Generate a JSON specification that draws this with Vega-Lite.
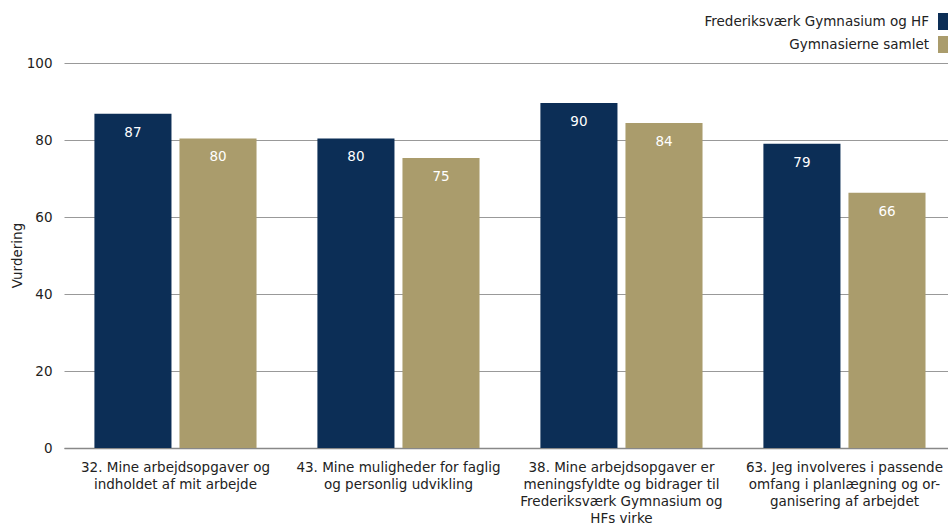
{
  "$schema": "https://vega.github.io/schema/vega-lite/v6.json",
  "autosize": {"type": "none"},
  "width": 884,
  "height": 385,
  "padding": {"left": 64, "top": 63, "right": 0, "bottom": 78},
  "background": "white",
  "config": {
    "font": "DejaVu Sans",
    "view": {"stroke": null},
    "axis": {"labelFont": "DejaVu Sans", "titleFont": "DejaVu Sans", "labelColor": "#222", "titleColor": "#222"}
  },
  "data": {
    "values": [
      {"q": "32. Mine arbejdsopgaver og\nindholdet af mit arbejde", "group": "Frederiksværk Gymnasium og HF", "value": 86.8},
      {"q": "32. Mine arbejdsopgaver og\nindholdet af mit arbejde", "group": "Gymnasierne samlet", "value": 80.4},
      {"q": "43. Mine muligheder for faglig\nog personlig udvikling", "group": "Frederiksværk Gymnasium og HF", "value": 80.4},
      {"q": "43. Mine muligheder for faglig\nog personlig udvikling", "group": "Gymnasierne samlet", "value": 75.3},
      {"q": "38. Mine arbejdsopgaver er\nmeningsfyldte og bidrager til\nFrederiksværk Gymnasium og\nHFs virke", "group": "Frederiksværk Gymnasium og HF", "value": 89.6},
      {"q": "38. Mine arbejdsopgaver er\nmeningsfyldte og bidrager til\nFrederiksværk Gymnasium og\nHFs virke", "group": "Gymnasierne samlet", "value": 84.4},
      {"q": "63. Jeg involveres i passende\nomfang i planlægning og or-\nganisering af arbejdet", "group": "Frederiksværk Gymnasium og HF", "value": 79.0},
      {"q": "63. Jeg involveres i passende\nomfang i planlægning og or-\nganisering af arbejdet", "group": "Gymnasierne samlet", "value": 66.3}
    ]
  },
  "encoding": {
    "x": {
      "field": "q", "type": "nominal", "sort": null,
      "scale": {"paddingInner": 0.273, "paddingOuter": 0.1186, "align": 0.575},
      "axis": {
        "title": null, "labelAngle": 0, "labelExpr": "split(datum.value, '\\n')",
        "labelFontSize": 13.5, "labelLineHeight": 17, "labelPadding": 12,
        "ticks": false, "domain": true, "domainColor": "#888", "domainWidth": 1.5,
        "labelLimit": 300
      }
    },
    "xOffset": {"field": "group", "type": "nominal", "sort": null, "scale": {"paddingInner": 0.094, "paddingOuter": 0}},
    "y": {
      "field": "value", "type": "quantitative",
      "scale": {"domain": [0, 100], "nice": false},
      "axis": {
        "title": "Vurdering", "titleFontSize": 13.5, "titleFontWeight": "normal",
        "titleX": -47, "titleY": 192, "titleAngle": -90, "titleBaseline": "middle", "titleAlign": "center",
        "values": [0, 20, 40, 60, 80, 100], "labelFontSize": 13.5, "labelPadding": 12,
        "ticks": false, "domain": false, "grid": true, "gridColor": "#999", "gridWidth": 1
      }
    }
  },
  "layer": [
    {
      "mark": {"type": "bar"},
      "encoding": {
        "color": {
          "field": "group", "type": "nominal", "sort": null,
          "scale": {"domain": ["Frederiksværk Gymnasium og HF", "Gymnasierne samlet"], "range": ["#0c2e56", "#aa9c6c"]},
          "legend": {
            "title": null, "orient": "none", "legendX": 874, "legendY": -50,
            "symbolType": "square", "symbolSize": 289, "symbolStrokeWidth": 0, "symbolOpacity": 1,
            "labelAlign": "right", "labelOffset": -26, "labelFontSize": 13.5, "labelColor": "#222",
            "rowPadding": 6, "padding": 0, "labelLimit": 400
          }
        }
      }
    },
    {
      "mark": {"type": "text", "baseline": "top", "dy": 12, "color": "white", "fontSize": 13.5},
      "encoding": {
        "text": {"field": "value", "type": "quantitative", "format": ".0f"}
      }
    }
  ]
}
